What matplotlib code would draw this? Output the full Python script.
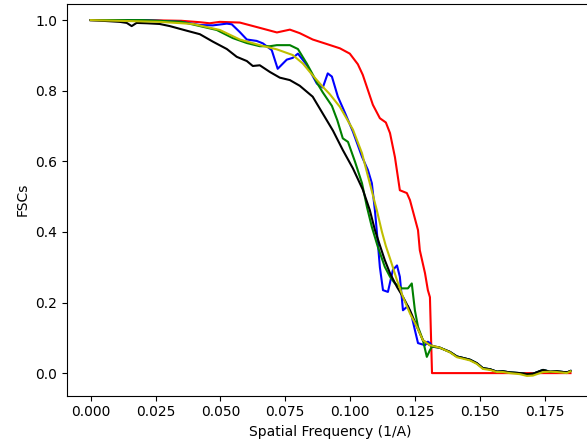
import matplotlib
matplotlib.use("Agg")
import matplotlib.pyplot as plt
import numpy as np

# ---- data ----
tail_x = [0.1346, 0.1385, 0.1412, 0.1435, 0.1462, 0.1489, 0.1512, 0.1539, 0.1566,
          0.1590, 0.1616, 0.1655, 0.1682, 0.1705, 0.1744, 0.1771, 0.1798, 0.1836, 0.1850]
tail_black = [0.072, 0.060, 0.047, 0.043, 0.038, 0.028, 0.014, 0.011, 0.004,
              0.005, 0.002, 0.000, -0.003, -0.002, 0.009, 0.004, 0.005, 0.002, 0.006]
tail_yellow = [0.072, 0.059, 0.045, 0.041, 0.036, 0.026, 0.012, 0.009, 0.003,
               0.003, 0.000, -0.003, -0.008, -0.007, 0.003, 0.004, 0.003, 0.000, 0.005]

red_x = [0.0, 0.02, 0.035, 0.0421, 0.0459, 0.0498, 0.0575, 0.0652, 0.0718, 0.0768,
         0.0806, 0.0856, 0.0911, 0.0961, 0.0999, 0.1030, 0.1049, 0.1088, 0.1115,
         0.1138, 0.1154, 0.1173, 0.1192, 0.1219, 0.1231, 0.1262, 0.1269, 0.1289,
         0.1300, 0.1308, 0.1316, 0.1850]
red_y = [1.0, 1.0, 0.998, 0.994, 0.991, 0.995, 0.993, 0.978, 0.965, 0.973,
         0.963, 0.945, 0.932, 0.920, 0.905, 0.875, 0.845, 0.760, 0.722,
         0.710, 0.680, 0.612, 0.518, 0.510, 0.490, 0.405, 0.348, 0.283,
         0.235, 0.215, 0.0, 0.0]

blue_x = [0.0, 0.02, 0.035, 0.0421, 0.0471, 0.0525, 0.0544, 0.0575, 0.0602, 0.0640,
          0.0664, 0.0698, 0.0721, 0.0756, 0.0779, 0.0799, 0.0833, 0.0872, 0.0895,
          0.0914, 0.0930, 0.0953, 0.0980, 0.1011, 0.1046, 0.1069, 0.1084, 0.1096,
          0.1107, 0.1115, 0.1127, 0.1146, 0.1165, 0.1181, 0.1192, 0.1204, 0.1223,
          0.1238, 0.1250, 0.1262, 0.1289, 0.1300, 0.1308, 0.1316]
blue_y = [1.0, 1.0, 0.995, 0.986, 0.985, 0.990, 0.988, 0.966, 0.945, 0.941,
          0.934, 0.915, 0.862, 0.888, 0.893, 0.905, 0.873, 0.820, 0.809,
          0.849, 0.840, 0.783, 0.738, 0.684, 0.613, 0.575, 0.538, 0.460,
          0.370, 0.300, 0.235, 0.230, 0.292, 0.305, 0.273, 0.178, 0.190,
          0.160, 0.122, 0.085, 0.079, 0.089, 0.085, 0.075]

green_x = [0.0, 0.02, 0.035, 0.0486, 0.0548, 0.0602, 0.0652, 0.0691, 0.0718, 0.0768,
           0.0799, 0.0833, 0.0856, 0.0876, 0.0895, 0.0930, 0.0951, 0.0972, 0.0992,
           0.1019, 0.1046, 0.1065, 0.1084, 0.1107, 0.1134, 0.1154, 0.1173, 0.1200,
           0.1223, 0.1238, 0.1250, 0.1262, 0.1281, 0.1296, 0.1308, 0.1316]
green_y = [1.0, 1.0, 0.995, 0.972, 0.949, 0.935, 0.926, 0.926, 0.929, 0.929,
           0.918, 0.877, 0.846, 0.818, 0.795, 0.757, 0.716, 0.665, 0.655,
           0.599, 0.538, 0.471, 0.414, 0.358, 0.301, 0.273, 0.254, 0.240,
           0.240, 0.254, 0.178, 0.131, 0.093, 0.046, 0.065, 0.075]

black_x = [0.0, 0.0112, 0.0139, 0.0158, 0.0177, 0.0216, 0.0266, 0.0305, 0.0370,
           0.0421, 0.0471, 0.0525, 0.0563, 0.0602, 0.0625, 0.0652, 0.0691, 0.0729,
           0.0768, 0.0806, 0.0856, 0.0895, 0.0934, 0.0972, 0.1011, 0.1049, 0.1076,
           0.1096, 0.1115, 0.1134, 0.1154, 0.1181, 0.1204, 0.1231, 0.1258, 0.1281,
           0.1308]
black_y = [1.0, 0.995, 0.992, 0.983, 0.992, 0.991, 0.989, 0.983, 0.970,
           0.960, 0.939, 0.918, 0.896, 0.884, 0.870, 0.872, 0.853, 0.837,
           0.830, 0.814, 0.783, 0.735, 0.687, 0.632, 0.580, 0.520, 0.462,
           0.405, 0.362, 0.320, 0.283, 0.244, 0.216, 0.178, 0.131, 0.093,
           0.079]

yellow_x = [0.0, 0.0266, 0.0394, 0.0498, 0.0575, 0.0652, 0.0718, 0.0779, 0.0818,
            0.0845, 0.0872, 0.0895, 0.0922, 0.0961, 0.1011, 0.1046, 0.1076, 0.1103,
            0.1123, 0.1138, 0.1154, 0.1181, 0.1204, 0.1231, 0.1258, 0.1281, 0.1308]
yellow_y = [1.0, 0.995, 0.989, 0.972, 0.945, 0.929, 0.917, 0.901, 0.877,
            0.853, 0.830, 0.811, 0.790, 0.754, 0.690, 0.623, 0.538, 0.462,
            0.400, 0.360, 0.325, 0.263, 0.216, 0.169, 0.131, 0.093, 0.079]

xticks = [0.000, 0.025, 0.050, 0.075, 0.100, 0.125, 0.150, 0.175]
yticks = [0.0, 0.2, 0.4, 0.6, 0.8, 1.0]

# ---- figure ----
W, H = 587, 446
fig = plt.figure(figsize=(W / 100, H / 100), dpi=100)
ax = fig.add_axes([66.7 / W, 50.3 / H, (594.5 - 66.7) / W, (395.7 - 3.5) / H])

ax.plot(red_x, red_y, color='r')
ax.plot(blue_x + tail_x, blue_y + tail_black, color='b')
ax.plot(green_x + tail_x, green_y + tail_black, color='g')
ax.plot(black_x + tail_x, black_y + tail_black, color='k')
ax.plot(yellow_x + tail_x, yellow_y + tail_yellow, color='y')

ax.set_xlim(-0.00925, 0.19425)
ax.set_ylim(-0.064, 1.047)
ax.set_xticks(xticks)
ax.set_yticks(yticks)
ax.set_xlabel("Spatial Frequency (1/A)")
ax.set_ylabel("FSCs")

fig.savefig("out.png", dpi=100)
